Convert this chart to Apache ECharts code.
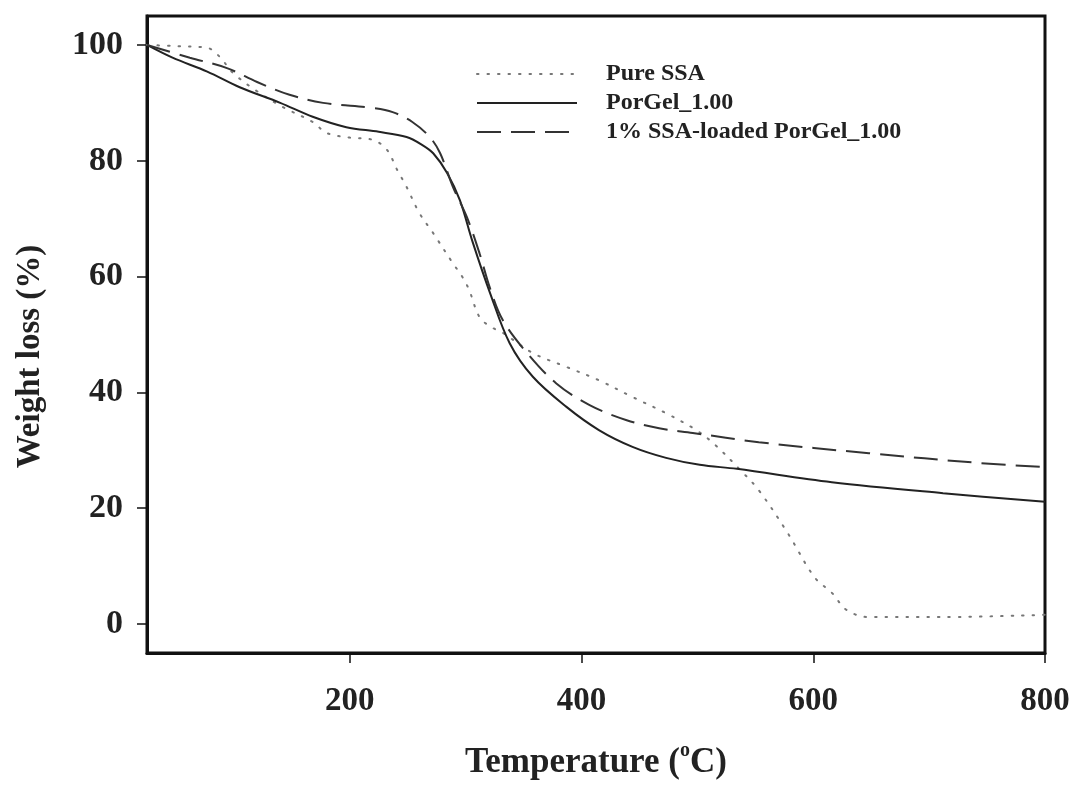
<!DOCTYPE html>
<html>
<head>
<meta charset="utf-8">
<script src="https://cdn.jsdelivr.net/npm/echarts@6/dist/echarts.min.js"></script>
<style>
  html, body { margin: 0; padding: 0; background: #fff; }
  #chart { width: 1074px; height: 789px; }
</style>
</head>
<body>
<div id="chart"></div>
<script>
// Temperature (°C) / weight (%) pairs
const pureSSA = [
  [25,100],[50,99.8],[77,99.5],[88,97.9],[99,95.2],[120,92],[142,89.3],[168,86.7],
  [180,84.8],[200,84],[220,83.6],[232,81.9],[241,78.4],[249,75.5],[260,71],[272,67.5],
  [289,62.3],[297,60],[303,57.7],[312,53],[322,51.3],[332,50.3],[358,46.8],[387,44.4],
  [415,42.1],[444,39.2],[473,36.4],[499,33.5],[515,31],[537,26.6],[553,23.1],[578,15.7],
  [601,8.1],[616,5.4],[629,2.4],[648,1.2],[712,1.2],[800,1.6]
];
const porGel = [
  [25,100],[47,97.8],[77,95.4],[105,92.7],[140,90],[168,87.6],[197,85.8],[225,85],
  [249,84.1],[262,82.8],[272,81.3],[284,77.9],[295,73.2],[306,66],[321,57.2],[338,48.5],
  [358,42.7],[387,37.5],[415,33.5],[444,30.6],[473,28.7],[502,27.5],[534,26.8],[616,24.5],
  [712,22.6],[800,21.1]
];
const ssaLoaded = [
  [25,100],[62,97.8],[94,96],[120,93.6],[148,91.4],[177,90],[220,89.1],[237,88.4],
  [254,86.7],[269,84.1],[278,81.3],[289,75.5],[301,70.3],[312,64],[321,58],[332,52.5],
  [353,46.8],[378,41.6],[407,37.8],[439,35.2],[467,33.8],[496,33],[553,31.4],[648,29.5],
  [744,27.8],[800,27.1]
];
const seriesNames = ['Pure SSA', 'PorGel_1.00', '1% SSA-loaded PorGel_1.00'];
const xTicks = [200, 400, 600, 800];
const yTicks = [0, 20, 40, 60, 80, 100];

const serif = '"Liberation Serif", "DejaVu Serif", serif';
const chart = echarts.init(document.getElementById('chart'), null, { renderer: 'canvas' });

chart.setOption({
  animation: false,
  backgroundColor: '#fff',
  grid: {
    left: 147, right: 29, top: 16, bottom: 136,
    show: true, borderColor: '#111', borderWidth: 3, backgroundColor: 'transparent'
  },
  legend: {
    orient: 'vertical',
    left: 471, top: 57,
    itemWidth: 100, itemHeight: 14, itemGap: 5,
    itemStyle: { opacity: 0 },
    textStyle: { fontFamily: serif, fontWeight: 'bold', fontSize: 24, color: '#222', padding: [0,0,0,24] },
    data: seriesNames
  },
  xAxis: {
    type: 'value',
    min: 25, max: 800,
    name: 'Temperature ({sup|o}C)',
    nameLocation: 'middle',
    nameGap: 88,
    nameTextStyle: {
      fontFamily: serif, fontWeight: 'bold', fontSize: 35, color: '#222',
      rich: { sup: { fontFamily: serif, fontWeight: 'bold', fontSize: 20, color: '#222', verticalAlign: 'top', padding: [0,0,24,0] } }
    },
    axisLine: { show: true, onZero: false, lineStyle: { color: '#111', width: 3 } },
    axisTick: { show: true, inside: false, length: 10, customValues: xTicks, lineStyle: { color: '#111', width: 1.5 } },
    axisLabel: { customValues: xTicks, margin: 32, fontFamily: serif, fontWeight: 'bold', fontSize: 33, color: '#222' },
    splitLine: { show: false }
  },
  yAxis: {
    type: 'value',
    min: -5, max: 105,
    name: 'Weight loss (%)',
    nameLocation: 'middle',
    nameGap: 100,
    nameRotate: 90,
    nameTextStyle: { fontFamily: serif, fontWeight: 'bold', fontSize: 33, color: '#222', padding: [0, 44, 0, 0] },
    axisLine: { show: true, onZero: false, lineStyle: { color: '#111', width: 3 } },
    axisTick: { show: true, inside: false, length: 10, customValues: yTicks, lineStyle: { color: '#111', width: 1.5 } },
    axisLabel: { customValues: yTicks, margin: 24, fontFamily: serif, fontWeight: 'bold', fontSize: 34, color: '#222' },
    splitLine: { show: false }
  },
  series: [
    {
      name: seriesNames[0], type: 'line', data: pureSSA, symbol: 'none', smooth: 0.35,
      lineStyle: { color: '#777', width: 2, type: [1.5, 9], cap: 'round' },
      itemStyle: { color: '#777' }
    },
    {
      name: seriesNames[1], type: 'line', data: porGel, symbol: 'none', smooth: 0.35,
      lineStyle: { color: '#222', width: 2, type: 'solid' },
      itemStyle: { color: '#222' }
    },
    {
      name: seriesNames[2], type: 'line', data: ssaLoaded, symbol: 'none', smooth: 0.35,
      lineStyle: { color: '#333', width: 2, type: [24, 10] },
      itemStyle: { color: '#333' }
    }
  ]
});
</script>
</body>
</html>
